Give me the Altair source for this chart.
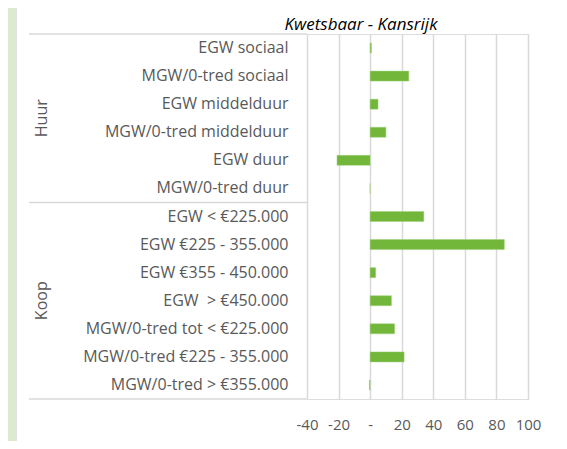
import altair as alt
import pandas as pd

groups = ["Huur"] * 6 + ["Koop"] * 7
categories = [
    "EGW sociaal",
    "MGW/0-tred sociaal",
    "EGW middelduur",
    "MGW/0-tred middelduur",
    "EGW duur",
    "MGW/0-tred duur",
    "EGW < €225.000",
    "EGW €225 - 355.000",
    "EGW €355 - 450.000",
    "EGW \u00a0> €450.000",
    "MGW/0-tred tot < €225.000",
    "MGW/0-tred €225 - 355.000",
    "MGW/0-tred > €355.000",
]
values = [0.8, 24.5, 5, 10, -21, 0, 34, 85, 3.5, 13.5, 15.5, 21.5, -0.5]
x_ticks = [-40, -20, 0, 20, 40, 60, 80, 100]
group_names = ["Huur", "Koop"]
group_anchor = ["MGW/0-tred middelduur", "EGW \u00a0> €450.000"]
chart_title = ["Kwetsbaar - Kansrijk"]

df = pd.DataFrame({"group": groups, "cat": categories, "value": values})

FONT = "Open Sans"
FS = 16
GRAY = "#595959"
LINE = "#D9D9D9"

yscale = alt.Scale(domain=categories, paddingInner=0, paddingOuter=0)

bars = alt.Chart(df).mark_bar(size=10, color="#72B63A", stroke="#9FD27A", strokeWidth=0.5).encode(
    x=alt.X(
        "value:Q",
        scale=alt.Scale(domain=[-40, 100], nice=False, zero=False),
        axis=alt.Axis(
            values=x_ticks,
            labelExpr="datum.value == 0 ? '-' : (datum.value < 0 ? '-' + abs(datum.value) : '' + datum.value)",
            labelOverlap=False,
            labelFlush=False,
            grid=True,
            gridColor=LINE,
            gridWidth=1.5,
            domain=False,
            ticks=False,
            labelPadding=18,
            labelFont=FONT,
            labelFontSize=15,
            labelColor=GRAY,
            title=None,
        ),
    ),
    y=alt.Y(
        "cat:N",
        sort=categories,
        scale=yscale,
        axis=alt.Axis(
            domain=False,
            ticks=False,
            grid=False,
            labelPadding=19,
            labelFont=FONT,
            labelFontSize=FS,
            labelColor=GRAY,
            labelLimit=400,
            labelOverlap=False,
            title=None,
        ),
    ),
)

sep_top = pd.DataFrame({"cat": [categories[0], categories[6]]})
sep_bottom = pd.DataFrame({"cat": [categories[-1]]})

rule_top = alt.Chart(sep_top).mark_rule(color=LINE, strokeWidth=1.5).encode(
    y=alt.Y("cat:N", scale=yscale, bandPosition=0),
    x=alt.value(-278),
    x2=alt.value(0),
)
rule_bottom = alt.Chart(sep_bottom).mark_rule(color=LINE, strokeWidth=1.5).encode(
    y=alt.Y("cat:N", scale=yscale, bandPosition=1),
    x=alt.value(-278),
    x2=alt.value(0),
)

huur = alt.Chart(pd.DataFrame({"g": [group_names[0]], "cat": [group_anchor[0]]})).mark_text(
    angle=270, font=FONT, fontSize=FS, color=GRAY, align="center", baseline="middle"
).encode(
    y=alt.Y("cat:N", scale=yscale, bandPosition=0),
    x=alt.value(-265),
    text="g:N",
)
koop = alt.Chart(pd.DataFrame({"g": [group_names[1]], "cat": [group_anchor[1]]})).mark_text(
    angle=270, font=FONT, fontSize=FS, color=GRAY, align="center", baseline="middle"
).encode(
    y=alt.Y("cat:N", scale=yscale, bandPosition=0.5),
    x=alt.value(-265),
    text="g:N",
)

title = alt.Chart(pd.DataFrame({"t": chart_title})).mark_text(
    font=FONT, fontSize=17, fontStyle="italic", color="#000000", align="center", baseline="middle"
).encode(
    x=alt.value(54),
    y=alt.value(-9),
    text="t:N",
)

strip = alt.Chart(pd.DataFrame({"a": [0]})).mark_rect(color="#DCEBCF").encode(
    x=alt.value(-299),
    x2=alt.value(-292),
    y=alt.value(-26),
    y2=alt.value(407),
)
strip_edge = alt.Chart(pd.DataFrame({"a": [0]})).mark_rule(color=LINE, strokeWidth=1.5).encode(
    x=alt.value(-291),
    y=alt.value(-26),
    y2=alt.value(407),
)

chart = (
    alt.layer(bars, rule_top, rule_bottom, huur, koop, title, strip, strip_edge)
    .properties(
        width=221,
        height=365,
        autosize=alt.AutoSizeParams(type="none"),
        padding={"left": 299, "top": 26, "right": 31, "bottom": 42},
    )
    .configure_view(stroke=None)
    .configure(background="white")
)

chart.save("out.html", embed_options={"renderer": "svg", "actions": False})
